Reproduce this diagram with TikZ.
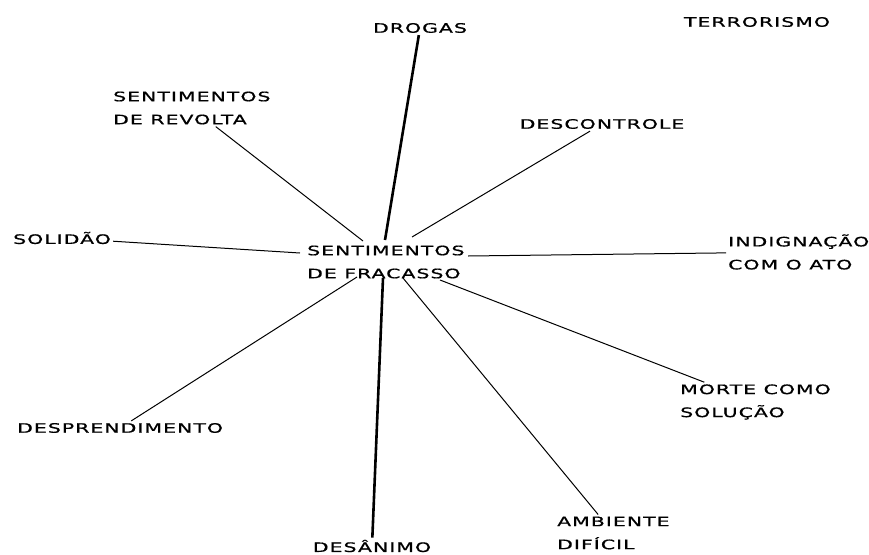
\documentclass[tikz,border=0pt]{standalone}
\usepackage{fontspec}
\newfontfamily\wordfont[FakeStretch=1.57,LetterSpace=8,FakeBold=0.8]{DejaVu Sans}
\usetikzlibrary{positioning}

\begin{document}
\begin{tikzpicture}[x=1pt, y=-1pt,
    word/.style={font=\wordfont\fontsize{13}{23}\selectfont, align=left, inner sep=2pt},
    thinlink/.style={line width=1pt},
    thicklink/.style={line width=2.6pt}]
	\useasboundingbox (0,0) rectangle (869,554);
	\node [word] (drogas) at (420,28) {DROGAS};
	\node [word] (terrorismo) at (757,22) {TERRORISMO};
	\node [word, anchor=west] (revolta) at (111,108) {SENTIMENTOS\\DE REVOLTA};
	\node [word] (descontrole) at (602,124) {DESCONTROLE};
	\node [word, anchor=west] (solidao) at (11,238) {SOLIDÃO};
	\node [word, anchor=west] (fracasso) at (305,262) {SENTIMENTOS\\DE FRACASSO};
	\node [word, anchor=west] (indignacao) at (726,252) {INDIGNAÇÃO\\COM O ATO};
	\node [word, anchor=west] (morte) at (678,402) {MORTE COMO\\SOLUÇÃO};
	\node [word, anchor=west] (desprendimento) at (15,428) {DESPRENDIMENTO};
	\node [word, anchor=west] (ambiente) at (555,533) {AMBIENTE\\DIFÍCIL};
	\node [word] (desanimo) at (372,546) {DESÂNIMO};
	\coordinate (hub-n) at (385,240);
	\coordinate (hub-s) at (383,278);
	\coordinate (hub-revolta) at (363,241);
	\coordinate (hub-descontrole) at (412,237);
	\coordinate (hub-solidao) at (300,253);
	\coordinate (hub-indignacao) at (468,256);
	\coordinate (hub-morte) at (440,280);
	\coordinate (hub-ambiente) at (403,278);
	\coordinate (hub-desprendimento) at (357,277);
	\path (drogas) edge [thicklink] (hub-n);
	\path (hub-s) edge [thicklink] (desanimo);
	\path (revolta) edge [thinlink] (hub-revolta);
	\path (descontrole) edge [thinlink] (hub-descontrole);
	\path (solidao) edge [thinlink] (hub-solidao);
	\path (hub-indignacao) edge [thinlink] (indignacao);
	\path (hub-morte) edge [thinlink] (morte);
	\path (hub-ambiente) edge [thinlink] (ambiente);
	\path (hub-desprendimento) edge [thinlink] (desprendimento);
\end{tikzpicture}
\end{document}
